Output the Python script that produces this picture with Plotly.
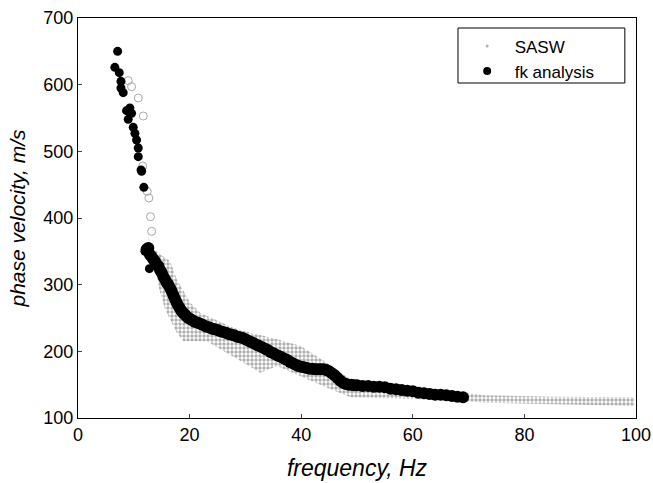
import plotly.graph_objects as go

# fk analysis - sparse early points
fk_early_f = [7.1, 6.6, 7.4, 7.7, 7.7, 8.1, 9.3, 8.7, 9.6, 9.0, 9.9, 10.2, 10.5, 10.8, 10.8, 11.3, 11.4, 11.8, 12.0, 12.8]
fk_early_v = [650, 626, 618, 605, 595, 588, 565, 561, 557, 548, 536, 527, 517, 505, 492, 472, 470, 446, 350, 324]

# fk analysis - dense band
fk_f = [12.3, 12.6, 12.9, 13.2, 13.5, 13.8, 14.1, 14.4, 14.7, 15.0, 15.3, 15.6, 15.9, 16.2, 16.5, 16.8,
        17.1, 17.4, 17.7, 18.0, 18.3, 18.6, 18.9, 19.2, 19.5, 19.8, 20.2, 20.6, 21.0, 21.5, 22.0, 22.5,
        23.0, 23.5, 24.0, 24.5, 25.0, 25.5, 26.0, 26.5, 27.0, 27.5, 28.0, 28.5, 29.0, 29.5, 30.0, 30.5,
        31.0, 31.5, 32.0, 32.5, 33.0, 33.5, 34.0, 34.5, 35.0, 35.5, 36.0, 36.5, 37.0, 37.5, 38.0, 38.5,
        39.0, 39.5, 40.0, 40.5, 41.0, 41.5, 42.0, 42.5, 43.0, 43.5, 44.0, 44.5, 45.0, 45.5, 46.0, 46.5,
        47.0, 47.5, 48.0, 48.5, 49.0, 49.5, 50.0, 51, 52, 53, 54, 55, 56, 57, 58, 59, 60, 61, 62, 63,
        64, 65, 66, 67, 68, 69]
fk_v = [353, 355, 345, 342, 338, 335, 330, 328, 322, 318, 312, 308, 303, 300, 295, 290,
        284, 278, 273, 268, 264, 260, 257, 255, 252, 250, 248, 246, 244, 243, 241, 239,
        237, 236, 234, 233, 232, 230, 229, 228, 226, 225, 224, 222, 221, 220, 218, 216,
        214, 212, 210, 208, 206, 204, 202, 199, 197, 195, 193, 191, 189, 187, 184, 182,
        180, 178, 177, 176, 175, 174, 174, 173, 173, 173, 173, 172, 170, 167, 164, 160,
        156, 153, 151, 150, 150, 149, 149, 148, 148, 147, 147, 146, 144, 143, 142, 141, 140, 138, 137, 136,
        135, 135, 134, 133, 132, 131]

# SASW band envelopes
sasw_up_f = [12.6, 13.5, 16.5, 17.7, 20.1, 21.9, 27.9, 30.9, 35.7, 39.9, 44.6, 47.0, 49.4, 57.8, 66.8, 72.7, 85.0, 99.7]
sasw_up_v = [372, 353, 335, 308, 273, 258, 235, 228, 218, 208, 183, 168, 156, 150, 141, 134, 132, 131]
sasw_lo_f = [12.9, 14.1, 14.4, 15.6, 17.7, 18.9, 23.1, 26.7, 29.7, 32.7, 35.7, 39.9, 43.4, 48.8, 57.8, 66.8, 72.7, 85.0, 99.7]
sasw_lo_v = [355, 328, 298, 263, 228, 215, 215, 198, 183, 168, 178, 163, 150, 131, 129, 127, 123, 121, 118]

# SASW sparse early points
sasw_early_f = [9.0, 9.6, 10.8, 11.7, 11.6, 12.4, 12.7, 13.0, 13.2]
sasw_early_v = [606, 597, 580, 553, 478, 440, 430, 402, 380]

xticks = [0, 20, 40, 60, 80, 100]
yticks = [100, 200, 300, 400, 500, 600, 700]

fig = go.Figure()

poly_f = sasw_up_f + sasw_lo_f[::-1]
poly_v = sasw_up_v + sasw_lo_v[::-1]
fig.add_trace(go.Scatter(
    x=poly_f, y=poly_v, fill='toself', mode='lines', line=dict(width=0, color='rgba(0,0,0,0)'),
    fillcolor='rgba(0,0,0,0)',
    fillpattern=dict(shape='.', fgcolor='#5e5e5e', bgcolor='white', size=4, solidity=0.55),
    showlegend=False, hoverinfo='skip'))
fig.add_trace(go.Scatter(
    x=sasw_early_f, y=sasw_early_v, mode='markers',
    marker=dict(symbol='circle-open', size=8, color='#a8a8a8', line=dict(width=1)),
    showlegend=False))
fig.add_trace(go.Scatter(
    x=[None], y=[None], mode='markers', name='SASW',
    marker=dict(size=3, color='#b0b0b0')))
fig.add_trace(go.Scatter(
    x=fk_early_f, y=fk_early_v, mode='markers', showlegend=False,
    marker=dict(size=9, color='black')))
fig.add_trace(go.Scatter(
    x=fk_f, y=fk_v, mode='markers', showlegend=False,
    marker=dict(size=12, color='black')))
fig.add_trace(go.Scatter(
    x=[None], y=[None], mode='markers', name='fk analysis',
    marker=dict(size=8, color='black')))

# legend frame drawn as a shape (wider than plotly's auto legend box)
fig.add_shape(type='rect', xref='paper', yref='paper',
              x0=0.681, x1=0.980, y0=0.8375, y1=0.975,
              line=dict(color='black', width=1), fillcolor='white', layer='above')

fig.update_layout(
    width=653, height=483,
    margin=dict(l=78, r=17, t=18, b=65),
    paper_bgcolor='white', plot_bgcolor='white',
    font=dict(family='Liberation Sans, Arial, sans-serif', size=18, color='black'),
    showlegend=True,
    legend=dict(x=0.684, y=0.974, xanchor='left', yanchor='top',
                borderwidth=0, bgcolor='rgba(0,0,0,0)',
                itemwidth=45, font=dict(size=17)),
    xaxis=dict(range=[0, 100], tickvals=xticks, ticks='inside', ticklen=4,
               tickfont=dict(size=18), automargin=False,
               showgrid=False, zeroline=False, showline=True, linecolor='black', mirror=True,
               title=dict(text='<i>frequency, Hz</i>', font=dict(size=23), standoff=16)),
    yaxis=dict(range=[100, 700], tickvals=yticks, ticks='inside', ticklen=4,
               tickfont=dict(size=18), automargin=False,
               showgrid=False, zeroline=False, showline=True, linecolor='black', mirror=True,
               title=dict(text='<i>phase velocity, m/s</i>', font=dict(size=21), standoff=12)),
)

fig.write_html("out.html")
